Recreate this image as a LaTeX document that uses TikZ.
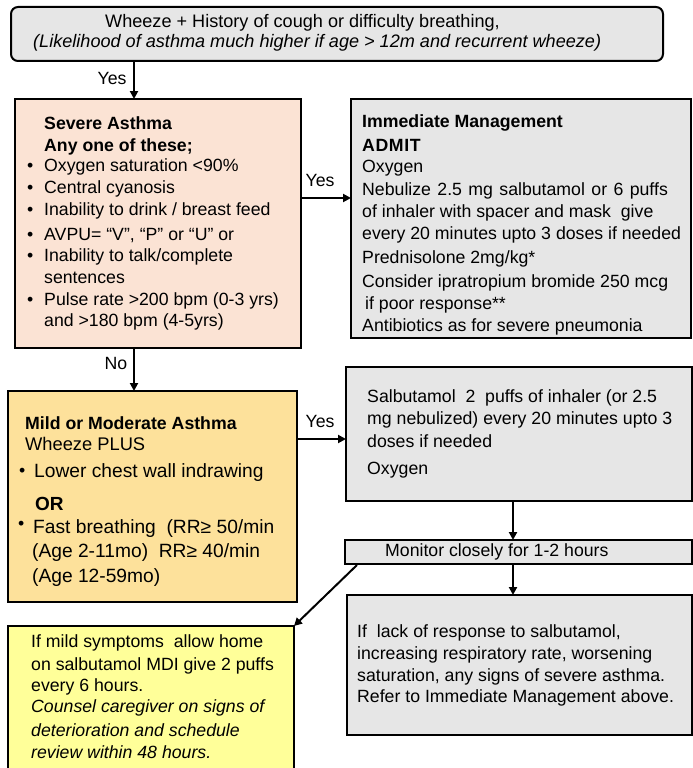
\documentclass[tikz,border=0pt]{standalone}
\usepackage{fontspec}
\setmainfont{Liberation Sans}
\usetikzlibrary{arrows.meta}
\definecolor{peach}{HTML}{FBE3D4}
\definecolor{gold}{HTML}{FDE19B}
\definecolor{boxgray}{HTML}{E6E6E6}
\definecolor{paleyellow}{HTML}{FFFF99}

\begin{document}
\begin{tikzpicture}[x=1pt,y=-1pt,
  box/.style={draw=black, line width=2pt, inner sep=0pt, outer sep=0pt, anchor=north west},
  txt/.style={anchor=west, inner sep=0pt, font=\fontsize{17.7}{21}\selectfont},
  txtb/.style={txt, font=\fontsize{17.7}{21}\selectfont\bfseries},
  txti/.style={txt, font=\fontsize{17.7}{21}\selectfont\itshape},
  txtl/.style={txt, font=\fontsize{19.2}{23}\selectfont},
  lbl/.style={inner sep=0pt, font=\fontsize{17.7}{21}\selectfont},
  arr/.style={line width=2pt, -{Triangle[length=8pt,width=8pt]}}
]
\useasboundingbox (0,0) rectangle (693,768);

% ---- boxes ----
\node[box, fill=boxgray, rounded corners=7pt, minimum width=652pt, minimum height=54pt] (top) at (11,7) {};
\node[box, fill=peach, minimum width=286pt, minimum height=249pt] (sev) at (15,99) {};
\node[box, fill=boxgray, minimum width=340pt, minimum height=239pt] (imm) at (351,99) {};
\node[box, fill=gold, minimum width=289pt, minimum height=211pt] (mild) at (8,391) {};
\node[box, fill=boxgray, minimum width=346pt, minimum height=134pt] (salb) at (346,367) {};
\node[box, fill=boxgray, minimum width=347pt, minimum height=24pt] (mon) at (345,540) {};
\node[box, fill=boxgray, minimum width=345pt, minimum height=140pt] (low) at (347,595) {};
\node[box, fill=paleyellow, minimum width=286pt, minimum height=154pt] (yel) at (8,626) {};

% ---- top box ----
\node[txt, font=\fontsize{18.1}{21}\selectfont] (top1) at (105,23) {Wheeze + History of cough or difficulty breathing,};
\node[txti, font=\fontsize{18.1}{21}\selectfont\itshape] (top2) at (33,43) {(Likelihood of asthma much higher if age > 12m and recurrent wheeze)};

% ---- severe asthma ----
\node[txtb] (sev1) at (44,123) {Severe Asthma};
\node[txtb] (sev2) at (44,147) {Any one of these;};
\node[txt] (sb1) at (27,167) {•};
\node[txt] (sev3) at (44,167) {Oxygen saturation <90\%};
\node[txt] (sb2) at (27,189) {•};
\node[txt] (sev4) at (44,189) {Central cyanosis};
\node[txt] (sb3) at (27,211) {•};
\node[txt] (sev5) at (44,211) {Inability to drink / breast feed};
\node[txt] (sb4) at (27,236) {•};
\node[txt] (sev6) at (44,236) {AVPU= “V”, “P” or “U” or};
\node[txt] (sb5) at (27,257) {•};
\node[txt] (sev7) at (44,257) {Inability to talk/complete};
\node[txt] (sev8) at (44,278) {sentences};
\node[txt] (sb6) at (27,301) {•};
\node[txt] (sev9) at (44,301) {Pulse rate >200 bpm (0-3 yrs)};
\node[txt] (sev10) at (44,322) {and >180 bpm (4-5yrs)};

% ---- immediate management ----
\node[txtb] (imm1) at (362,123) {Immediate Management};
\node[txtb] (imm2) at (362,145) {A\kern0.6pt D\kern0.6pt M\kern0.6pt I\kern0.6pt T};
\node[txt] (imm3) at (362,168) {Oxygen};
\node[txt] (imm4) at (362,191) {\spaceskip=6.4pt\relax Nebulize 2.5 mg salbutamol or 6 puffs};
\node[txt] (imm5) at (362,213) {of inhaler with spacer and mask\ \ give};
\node[txt] (imm6) at (362,235) {every 20 minutes upto 3 doses if needed};
\node[txt] (imm7) at (362,259) {Prednisolone 2mg/kg*};
\node[txt] (imm8) at (362,283) {Consider ipratropium bromide 250 mcg};
\node[txt] (imm9) at (365,305) {if poor response**};
\node[txt] (imm10) at (362,327) {Antibiotics as for severe pneumonia};

% ---- mild or moderate asthma ----
\node[txtb] (mild1) at (25,423) {Mild or Moderate Asthma};
\node[txt, font=\fontsize{18.3}{21}\selectfont] (mild2) at (25,444) {Wheeze PLUS};
\node[txt] (mb1) at (19,472) {•};
\node[txtl] (mild3) at (34,473) {Lower chest wall indrawing};
\node[txtb, font=\fontsize{19}{23}\selectfont\bfseries] (mild4) at (35,504) {OR};
\node[txt] (mb2) at (18,525) {•};
\node[txtl] (mild5) at (33,529) {Fast breathing\ \ (RR≥ 50/min};
\node[txtl] (mild6) at (32,553) {(Age 2-11mo)\ \ RR≥ 40/min};
\node[txtl] (mild7) at (32,578) {(Age 12-59mo)};

% ---- salbutamol ----
\node[txt] (salb1) at (367,398) {Salbutamol\ \ 2\ \ puffs of inhaler (or 2.5};
\node[txt] (salb2) at (367,420) {mg nebulized) every 20 minutes upto 3};
\node[txt] (salb3) at (367,441) {doses if needed};
\node[txt] (salb4) at (367,470) {Oxygen};

% ---- monitor ----
\node[txt] (mon1) at (385,552) {Monitor closely for 1-2 hours};

% ---- lack of response ----
\node[txt] (low1) at (357,633) {If\ \ lack of response to salbutamol,};
\node[txt] (low2) at (357,655) {increasing respiratory rate, worsening};
\node[txt] (low3) at (357,677) {saturation, any signs of severe asthma.};
\node[txt] (low4) at (357,698) {Refer to Immediate Management above.};

% ---- home care ----
\node[txt] (yel1) at (31,643) {If mild symptoms\ \ allow home};
\node[txt] (yel2) at (31,666) {on salbutamol MDI give 2 puffs};
\node[txt] (yel3) at (31,687) {every 6 hours.};
\node[txti] (yel4) at (31,708) {Counsel caregiver on signs of};
\node[txti] (yel5) at (31,730) {deterioration and schedule};
\node[txti] (yel6) at (31,752) {review within 48 hours.};

% ---- connectors ----
\coordinate (colL) at (134,0);
\coordinate (colR) at (513,0);
\coordinate (rowA) at (0,198);
\coordinate (rowB) at (0,439);
\coordinate (diagS) at (357,565);

\draw[arr] (colL |- top.south) -- (colL |- sev.north);
\node[lbl] (yes1) at (112,78) {Yes};

\draw[arr] (sev.east |- rowA) -- (imm.west |- rowA);
\node[lbl] (yes2) at (320,180) {Yes};

\draw[arr] (colL |- sev.south) -- (colL |- mild.north);
\node[lbl] (no1) at (116,363) {No};

\draw[arr] (mild.east |- rowB) -- (salb.west |- rowB);
\node[lbl] (yes3) at (320,421) {Yes};

\draw[arr] (colR |- salb.south) -- (colR |- mon.north);
\draw[arr] (colR |- mon.south) -- (colR |- low.north);
\draw[arr] (diagS) -- (yel.north east);
\end{tikzpicture}
\end{document}
